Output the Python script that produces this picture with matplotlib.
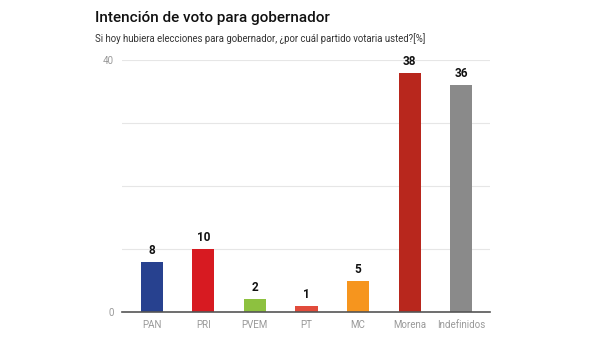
import matplotlib.pyplot as plt
import numpy as np

# datos
partidos = ['PAN', 'PRI', 'PVEM', 'PT', 'MC', 'Morena', 'Indefinidos']
votos = [8, 10, 2, 1, 5, 38, 36]
colores = ['#27418f', '#d71a21', '#8dc13f', '#e14b3b', '#f6951e', '#b8271d', '#8a8a8a']

plt.rcParams['font.family'] = ['Roboto', 'DejaVu Sans']

fig = plt.figure(figsize=(6, 3.37), dpi=100)
ax = fig.add_axes([0.203, 0.074, 0.614, 0.748])

x = np.arange(len(partidos))
ax.bar(x, votos, width=0.43, color=colores, zorder=2)
for xi, v in zip(x, votos):
    ax.text(xi, v + 0.8, str(v), ha='center', va='bottom', fontsize=8.5, fontweight='bold', color='#111111')

ax.set_xlim(-0.58, 6.56)
ax.set_ylim(0, 40)
ax.set_yticks([0, 10, 20, 30, 40])
ax.set_yticklabels(['0', '', '', '', '40'])
ax.yaxis.grid(True, color='#e6e6e6', linewidth=0.8, zorder=0)
ax.set_xticks(x)
ax.set_xticklabels(partidos)
ax.tick_params(axis='both', length=0, labelsize=7, colors='#999999')
ax.tick_params(axis='y', pad=6)
ax.tick_params(axis='x', pad=6)
for s in ['top', 'right', 'left']:
    ax.spines[s].set_visible(False)
ax.spines['bottom'].set_color('#555555')
ax.spines['bottom'].set_linewidth(1.2)
ax.spines['bottom'].set_zorder(3)

fig.text(0.158, 0.947, 'Intención de voto para gobernador', fontsize=11, fontweight='medium', color='#111111', va='center')
fig.text(0.158, 0.885, 'Si hoy hubiera elecciones para gobernador, ¿por cuál partido votaria usted?[%]', fontsize=6.9, color='#333333', va='center')

fig.savefig('out.png', dpi=100)
